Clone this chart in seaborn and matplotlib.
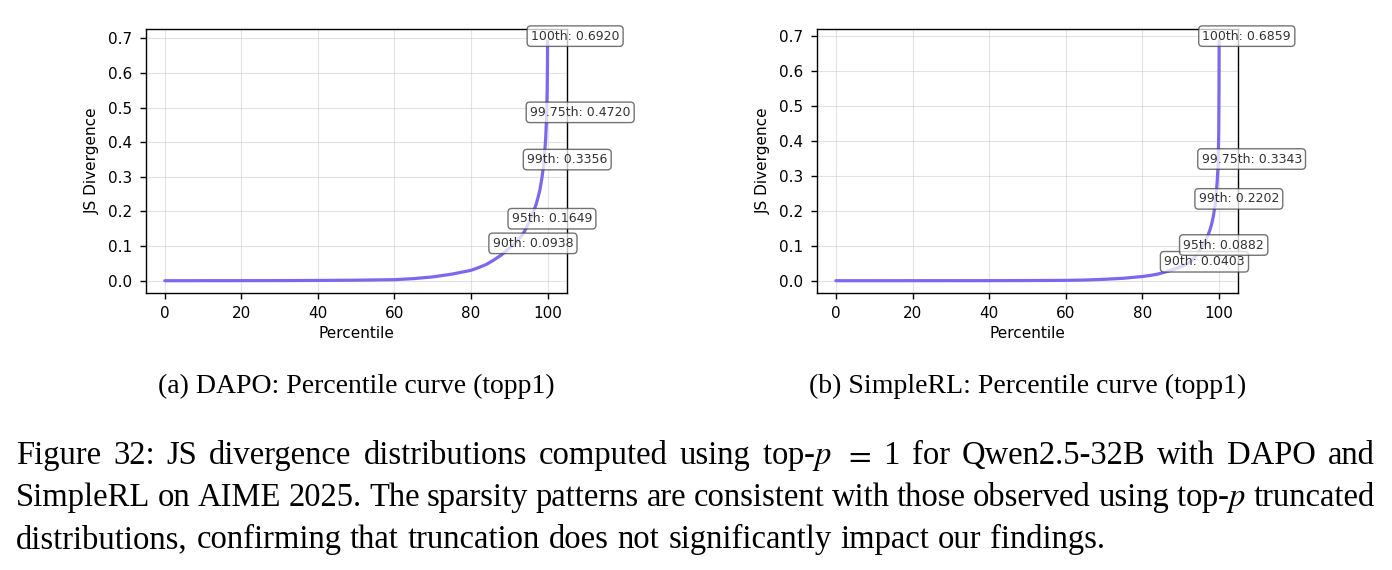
import matplotlib
matplotlib.use("Agg")
import matplotlib.pyplot as plt
import seaborn as sns
import pandas as pd

# percentile curve values
percentiles = [0, 10, 20, 30, 40, 50, 60, 65, 70, 75, 80, 82, 84, 86, 88, 90, 91, 92,
               93, 94, 95, 96, 97, 97.5, 98, 98.5, 99, 99.25, 99.5, 99.75, 99.9,
               99.97, 100]
dapo_js = [0.0, 0.0001, 0.0002, 0.0004, 0.0008, 0.0015, 0.003, 0.006, 0.011, 0.019,
           0.030, 0.038, 0.047, 0.060, 0.075, 0.0938, 0.103, 0.114, 0.127, 0.143,
           0.1649, 0.190, 0.220, 0.240, 0.262, 0.295, 0.3356, 0.370, 0.410, 0.4720,
           0.550, 0.620, 0.6920]
simplerl_js = [0.0, 0.0, 0.0001, 0.0001, 0.0002, 0.0005, 0.001, 0.002, 0.004, 0.007,
               0.012, 0.015, 0.019, 0.025, 0.032, 0.0403, 0.045, 0.051, 0.060, 0.072,
               0.0882, 0.105, 0.128, 0.142, 0.160, 0.185, 0.2202, 0.250, 0.285,
               0.3343, 0.430, 0.560, 0.6859]

# labelled percentiles
mark_pcts = [90, 95, 99, 99.75, 100]
mark_names = ["90th", "95th", "99th", "99.75th", "100th"]
dapo_marks = [0.0938, 0.1649, 0.3356, 0.4720, 0.6920]
simplerl_marks = [0.0403, 0.0882, 0.2202, 0.3343, 0.6859]

sub_captions = ["(a) DAPO: Percentile curve (topp1)",
                "(b) SimpleRL: Percentile curve (topp1)"]
caption_lines = [
    "Figure 32:  JS divergence distributions computed using top-$p$ $=$ 1 for Qwen2.5-32B with DAPO and",
    "SimpleRL on AIME 2025. The sparsity patterns are consistent with those observed using top-$p$ truncated",
    "distributions, confirming that truncation does not significantly impact our findings.",
]

sns.set_theme(style="ticks")
plt.rcParams["mathtext.fontset"] = "stix"
plt.rcParams["text.color"] = "black"
plt.rcParams["axes.labelcolor"] = "black"
plt.rcParams["xtick.color"] = "black"
plt.rcParams["ytick.color"] = "black"
serif = ["Liberation Serif", "DejaVu Serif"]

fig = plt.figure(figsize=(13.92, 5.70), dpi=100)
W, H = 1392, 570
axes = [fig.add_axes([145.7 / W, 1 - 292.7 / H, 421 / W, 263.7 / H]),
        fig.add_axes([816.7 / W, 1 - 292.7 / H, 421.6 / W, 263.7 / H])]

line_color = "#7B68EE"
for ax, vals, marks in zip(axes, [dapo_js, simplerl_js], [dapo_marks, simplerl_marks]):
    df = pd.DataFrame({"Percentile": percentiles, "JS": vals})
    sns.lineplot(data=df, x="Percentile", y="JS", ax=ax, color=line_color, linewidth=2.3)
    for p, name, v in zip(mark_pcts, mark_names, marks):
        ax.annotate(f"{name}: {v:.4f}", xy=(p, v), xytext=(-12, 3.5),
                    textcoords="offset points", ha="left", va="center",
                    fontsize=9, color="#333333",
                    bbox=dict(boxstyle="round,pad=0.3", fc="white", ec="#444444",
                              alpha=0.75, lw=1))
    ax.set_xlabel("Percentile", fontsize=11, labelpad=4)
    ax.set_ylabel("JS Divergence", fontsize=11, labelpad=6)
    ax.set_xticks([0, 20, 40, 60, 80, 100])
    ax.set_yticks([0.0, 0.1, 0.2, 0.3, 0.4, 0.5, 0.6, 0.7])
    ax.tick_params(labelsize=11, length=4, width=1, color="black", pad=5.5)
    ax.grid(True, color="#bbbbbb", alpha=0.4, linewidth=0.8)
    for s in ax.spines.values():
        s.set_color("black")
        s.set_linewidth(1)

for ax, cap in zip(axes, sub_captions):
    bb = ax.get_position()
    fig.text((bb.x0 + bb.x1) / 2, 1 - 386 / H, cap, ha="center", va="center",
             fontsize=20, family=serif, color="black")


def justify(line, y_px, x0_px, x1_px, fs, stretch=True):
    words = [w for w in line.split(" ") if w != ""]
    texts = [fig.text(0, 1 - y_px / H, w, fontsize=fs, family=serif,
                      va="baseline", ha="left") for w in words]
    fig.canvas.draw()
    r = fig.canvas.get_renderer()
    widths = [t.get_window_extent(r).width for t in texts]
    if stretch:
        gap = (x1_px - x0_px - sum(widths)) / (len(words) - 1)
    else:
        gap = fs * 100 / 72 * 0.27
    x = x0_px
    for t, w in zip(texts, widths):
        t.set_x(x / W)
        x += w + gap


justify(caption_lines[0], 464, 16, 1375, 23.5)
justify(caption_lines[1], 506, 16, 1375, 23.5)
justify(caption_lines[2], 548, 16, 1375, 23.5, stretch=False)

fig.savefig("out.png", dpi=100)
